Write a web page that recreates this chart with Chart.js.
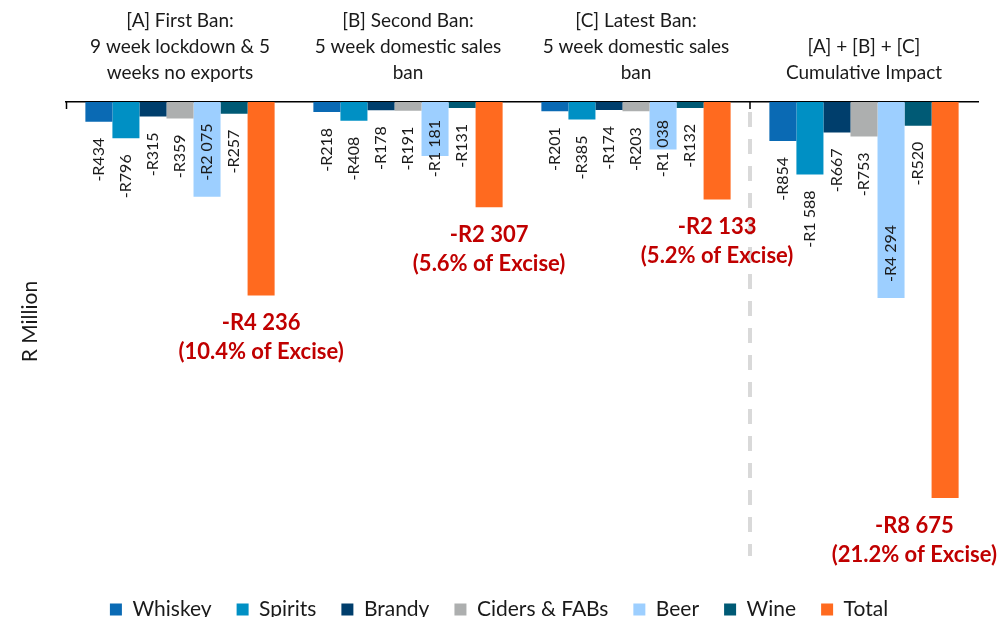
<!DOCTYPE html>
<html>
<head>
<meta charset="utf-8">
<script src="https://cdn.jsdelivr.net/npm/chart.js@4.4.1/dist/chart.umd.min.js"></script>
<style>
  html, body { margin: 0; padding: 0; background: #fff; }
  #wrap { width: 998px; height: 617px; }
</style>
</head>
<body>
<div id="wrap"><canvas id="myChart"></canvas></div>
<script>
// categories (top labels)
const categories = [
    ['[A] First Ban:', '9 week lockdown & 5', 'weeks no exports'],
    ['[B] Second Ban:', '5 week domestic sales', 'ban'],
    ['[C] Latest Ban:', '5 week domestic sales', 'ban'],
    ['[A] + [B] + [C]', 'Cumulative Impact']
];

// R million, per category
const whiskey = [-434, -218, -201, -854];
const spirits = [-796, -408, -385, -1588];
const brandy = [-315, -178, -174, -667];
const ciders = [-359, -191, -203, -753];
const beer = [-2075, -1181, -1038, -4294];
const wine = [-257, -131, -132, -520];
const total = [-4236, -2307, -2133, -8675];
const excisePct = ['10.4%', '5.6%', '5.2%', '21.2%'];

const FONT = 'Lato, "Open Sans", sans-serif';

function fmt(v) {
    // -R2 075 style, space as thousands separator
    const s = Math.abs(v).toString().replace(/\B(?=(\d{3})+(?!\d))/g, ' ');
    return '-R' + s;
}

// value labels + divider line
const labelPlugin = {
    id: 'labelPlugin',
    afterDatasetsDraw(chart) {
        const ctx = chart.ctx;
        const area = chart.chartArea;
        const x = chart.scales.x;

        // little tick at the left end of the axis
        ctx.save();
        ctx.strokeStyle = '#000';
        ctx.lineWidth = 1.5;
        ctx.beginPath();
        ctx.moveTo(area.left + 0.5, area.top);
        ctx.lineTo(area.left + 0.5, area.top + 7);
        ctx.stroke();

        // dashed divider between [C] and cumulative
        const dx = (x.getPixelForValue(2) + x.getPixelForValue(3)) / 2;
        ctx.beginPath();
        ctx.moveTo(dx, area.top);
        ctx.lineTo(dx, area.top + 7);
        ctx.stroke();
        ctx.strokeStyle = '#d9d9d9';
        ctx.lineWidth = 4;
        ctx.setLineDash([15, 12]);
        ctx.beginPath();
        ctx.moveTo(dx, area.top + 10);
        ctx.lineTo(dx, 556);
        ctx.stroke();
        ctx.restore();

        chart.data.datasets.forEach((ds, di) => {
            const meta = chart.getDatasetMeta(di);
            meta.data.forEach((bar, i) => {
                const v = ds.data[i];
                ctx.save();
                if (ds.label === 'Total') {
                    ctx.font = 'bold 22px ' + FONT;
                    ctx.fillStyle = '#c00000';
                    ctx.textAlign = 'center';
                    ctx.textBaseline = 'middle';
                    const l1 = fmt(v);
                    const l2 = '(' + excisePct[i] + ' of Excise)';
                    const w = Math.max(ctx.measureText(l1).width, ctx.measureText(l2).width);
                    let cx = bar.x;
                    if (cx + w / 2 > chart.width - 1) cx = chart.width - 1 - w / 2;
                    ctx.fillText(l1, cx, bar.y + 28);
                    ctx.fillText(l2, cx, bar.y + 57);
                } else {
                    ctx.font = '16px ' + FONT;
                    ctx.fillStyle = '#1a1a1a';
                    ctx.textBaseline = 'middle';
                    const txt = fmt(v);
                    const w = ctx.measureText(txt).width;
                    let top;
                    if (ds.label === 'Beer') {
                        top = bar.y - 16 - w;
                        if (top < area.top + 18) top = area.top + 18;
                    } else {
                        top = bar.y + 16;
                    }
                    ctx.translate(bar.x, top);
                    ctx.rotate(-Math.PI / 2);
                    ctx.textAlign = 'right';
                    ctx.fillText(txt, 0, 0);
                }
                ctx.restore();
            });
        });
    }
};

function renderChart() {
    const ctx = document.getElementById('myChart');

    new Chart(ctx, {
        type: 'bar',
        data: {
            labels: categories,
            datasets: [
                { label: 'Whiskey', data: whiskey, backgroundColor: '#0a6ab4' },
                { label: 'Spirits', data: spirits, backgroundColor: '#0090c4' },
                { label: 'Brandy', data: brandy, backgroundColor: '#003e6c' },
                { label: 'Ciders & FABs', data: ciders, backgroundColor: '#adafaf' },
                { label: 'Beer', data: beer, backgroundColor: '#9dcfff' },
                { label: 'Wine', data: wine, backgroundColor: '#005a75' },
                { label: 'Total', data: total, backgroundColor: '#ff6a1f' }
            ]
        },
        plugins: [labelPlugin],
        options: {
            responsive: true,
            maintainAspectRatio: false,
            animation: false,
            layout: { padding: { top: 0, right: 0, bottom: -13, left: 0 } },
            datasets: {
                bar: { categoryPercentage: 0.83, barPercentage: 1, borderWidth: 0 }
            },
            plugins: {
                tooltip: { enabled: false },
                legend: {
                    position: 'bottom',
                    title: { display: true, text: ' ', font: { size: 10 }, padding: { top: 10, bottom: 10.8 } },
                    labels: {
                        boxWidth: 12,
                        boxHeight: 12,
                        padding: 25,
                        color: '#1a1a1a',
                        font: { family: FONT, size: 21 }
                    }
                }
            },
            scales: {
                x: {
                    position: 'top',
                    grid: { display: false, drawTicks: false },
                    border: { display: true, color: '#000', width: 1.5 },
                    ticks: {
                        color: '#1a1a1a',
                        padding: 16,
                        maxRotation: 0,
                        autoSkip: false,
                        font: { family: FONT, size: 19, lineHeight: 1.37 }
                    },
                    afterFit(scale) { scale.height = 102; }
                },
                y: {
                    min: -9620,
                    max: 0,
                    grid: { display: false },
                    border: { display: false },
                    ticks: { display: false },
                    title: {
                        display: true,
                        text: 'R Million',
                        color: '#1a1a1a',
                        padding: { top: 18, bottom: 0 },
                        font: { family: FONT, size: 21 }
                    },
                    afterFit(scale) { scale.width = 66; }
                },
                // empty right-hand strip so the plot ends at x=978
                yRight: {
                    position: 'right',
                    grid: { display: false },
                    border: { display: false },
                    ticks: { display: false },
                    afterFit(scale) { scale.width = 20; }
                }
            }
        }
    });
}

renderChart();
</script>
</body>
</html>
